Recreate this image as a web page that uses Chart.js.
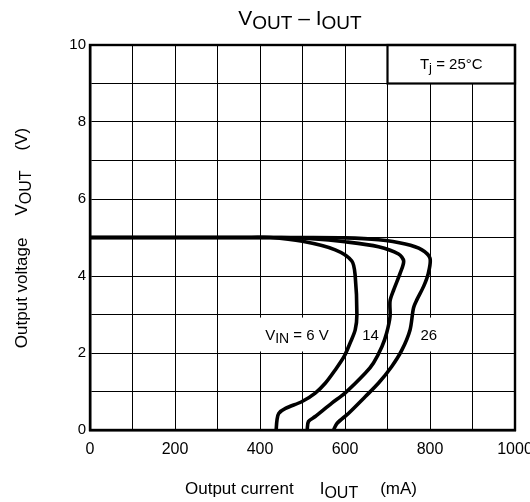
<!DOCTYPE html>
<html>
<head>
<meta charset="utf-8">
<script src="https://cdn.jsdelivr.net/npm/chart.js@4"></script>
<style>
  html, body { margin: 0; padding: 0; background: #fff; }
  #wrap { width: 530px; height: 502px; }
</style>
</head>
<body>
<div id="wrap"><canvas id="chart" width="530" height="502"></canvas></div>
<script>
// output current (mA) / output voltage (V)
const iout6 = [0, 380, 424, 500, 577, 616, 624, 628, 624, 612, 598, 577, 554, 530, 499, 460, 444, 440, 438];
const vout6 = [5, 5, 5, 4.9, 4.68, 4.39, 4.0, 3.0, 2.6, 2.26, 1.91, 1.56, 1.22, 0.96, 0.74, 0.56, 0.43, 0.26, 0];

const iout14 = [0, 400, 450, 522, 600, 679, 726, 738, 730, 715, 706, 706, 698, 687, 667, 648, 600, 569, 530, 514, 511];
const vout14 = [5, 5, 5, 4.97, 4.89, 4.76, 4.57, 4.39, 4.08, 3.65, 3.35, 2.95, 2.52, 2.17, 1.74, 1.48, 0.96, 0.7, 0.35, 0.22, 0];

const iout26 = [0, 450, 500, 600, 679, 742, 781, 800, 796, 785, 769, 761, 753, 734, 710, 679, 648, 608, 581, 573];
const vout26 = [5, 5, 5, 4.99, 4.94, 4.83, 4.68, 4.46, 4.07, 3.73, 3.38, 3.16, 2.6, 2.08, 1.65, 1.22, 0.87, 0.43, 0.17, 0];

const seriesNames = ["VIN = 6 V", "14", "26"];
const xTicks = [0, 200, 400, 600, 800, 1000];
const yTicks = [0, 2, 4, 6, 8, 10];

const FONT = "'Liberation Sans', Arial, sans-serif";

function toPoints(xs, ys) {
  return xs.map((x, i) => ({ x: x, y: ys[i] }));
}

// draws a run of text pieces: [text, size, drop] or {gap}
function drawParts(ctx, parts, x, y, align) {
  let total = 0;
  parts.forEach((p) => {
    if (p.gap) { total += p.gap; return; }
    ctx.font = p[1] + "px " + FONT;
    total += ctx.measureText(p[0]).width;
  });
  let cx = align === "center" ? x - total / 2 : x;
  ctx.textAlign = "left";
  ctx.textBaseline = "alphabetic";
  parts.forEach((p) => {
    if (p.gap) { cx += p.gap; return; }
    ctx.font = p[1] + "px " + FONT;
    ctx.fillText(p[0], cx, y + (p[2] || 0));
    cx += ctx.measureText(p[0]).width;
  });
  return total;
}

const textPlugin = {
  id: "textPlugin",
  beforeDatasetsDraw(chart) {
    const ctx = chart.ctx;
    const xs = chart.scales.x;
    const ys = chart.scales.y;
    ctx.save();
    ctx.fillStyle = "#fff";
    // white patches behind the curve labels
    const yTop = ys.getPixelForValue(2.92);
    const yBot = ys.getPixelForValue(2.04);
    ctx.fillRect(xs.getPixelForValue(395), yTop, xs.getPixelForValue(590) - xs.getPixelForValue(395), yBot - yTop);
    ctx.fillRect(xs.getPixelForValue(638), yTop, xs.getPixelForValue(687) - xs.getPixelForValue(638), yBot - yTop);
    ctx.fillRect(xs.getPixelForValue(775), yTop, xs.getPixelForValue(830) - xs.getPixelForValue(775), yBot - yTop);

    ctx.fillStyle = "#000";
    const ly = ys.getPixelForValue(2.5) + 6;
    drawParts(ctx, [["V", 15, 0], ["IN", 14, 3], [" = 6 V", 15, 0]], xs.getPixelForValue(487), ly, "center");
    drawParts(ctx, [[seriesNames[1], 15, 0]], xs.getPixelForValue(660), ly, "center");
    drawParts(ctx, [[seriesNames[2], 15, 0]], xs.getPixelForValue(797), ly, "center");

    // Tj box
    const bx = xs.getPixelForValue(700), bx2 = xs.getPixelForValue(1000);
    const by = ys.getPixelForValue(10), by2 = ys.getPixelForValue(9);
    ctx.fillStyle = "#fff";
    ctx.fillRect(bx, by, bx2 - bx, by2 - by);
    ctx.strokeStyle = "#000";
    ctx.lineWidth = 2.2;
    ctx.strokeRect(bx, by, bx2 - bx, by2 - by);
    ctx.fillStyle = "#000";
    drawParts(ctx, [["T", 15, 0], ["j", 13, 3], [" = 25°C", 15, 0]], (bx + bx2) / 2, (by + by2) / 2 + 5, "center");
    ctx.restore();
  },
  afterDraw(chart) {
    const ctx = chart.ctx;
    const a = chart.chartArea;
    ctx.save();
    ctx.strokeStyle = "#000";
    ctx.lineWidth = 2.4;
    ctx.strokeRect(a.left, a.top, a.right - a.left, a.bottom - a.top);

    ctx.fillStyle = "#000";
    // title
    drawParts(ctx, [["V", 21, 0], ["OUT", 19, 4], [" – ", 21, 0], ["I", 21, 0], ["OUT", 19, 4]], 300, 25, "center");
    // x title
    drawParts(ctx, [["Output current", 17, 0], { gap: 26 }, ["I", 17, 0], ["OUT", 16, 4], { gap: 22 }, ["(mA)", 17, 0]], 301, 494, "center");
    // y title, rotated
    ctx.translate(27, 238);
    ctx.rotate(-Math.PI / 2);
    drawParts(ctx, [["Output voltage", 17, 0], { gap: 22 }, ["V", 17, 0], ["OUT", 16, 4], { gap: 20 }, ["(V)", 17, 0]], 0, 0, "center");
    ctx.restore();
  },
};

const lineStyle = {
  showLine: true,
  borderColor: "#000",
  backgroundColor: "#000",
  borderWidth: 3.6,
  pointRadius: 0,
  tension: 0.3,
  fill: false,
};

new Chart(document.getElementById("chart"), {
  type: "scatter",
  data: {
    datasets: [
      { label: seriesNames[0], data: toPoints(iout6, vout6), ...lineStyle },
      { label: seriesNames[1], data: toPoints(iout14, vout14), ...lineStyle },
      { label: seriesNames[2], data: toPoints(iout26, vout26), ...lineStyle },
    ],
  },
  options: {
    responsive: false,
    animation: false,
    layout: { padding: { top: 45, right: 15, left: 0, bottom: 0 } },
    plugins: {
      legend: { display: false },
      title: { display: false },
      tooltip: { enabled: false },
    },
    scales: {
      x: {
        type: "linear",
        min: 0,
        max: 1000,
        afterFit(scale) {
          scale.height = 72;
          scale.paddingLeft = 0;
          scale.paddingRight = 0;
        },
        border: { display: true, color: "#000", width: 2.4 },
        grid: { color: "#000", lineWidth: 1, drawTicks: false },
        ticks: {
          stepSize: 100,
          padding: 10,
          color: "#000",
          font: { family: FONT, size: 16 },
          maxRotation: 0,
          autoSkip: false,
          callback: (v) => (xTicks.includes(v) ? v : ""),
        },
      },
      y: {
        type: "linear",
        min: 0,
        max: 10,
        afterFit(scale) {
          scale.width = 90;
          scale.paddingTop = 0;
          scale.paddingBottom = 0;
        },
        border: { display: true, color: "#000", width: 2.4 },
        grid: { color: "#000", lineWidth: 1, drawTicks: false },
        ticks: {
          stepSize: 1,
          padding: 4,
          color: "#000",
          font: { family: FONT, size: 15 },
          autoSkip: false,
          callback: (v) => (yTicks.includes(v) ? v : ""),
        },
      },
    },
  },
  plugins: [textPlugin],
});
</script>
</body>
</html>
